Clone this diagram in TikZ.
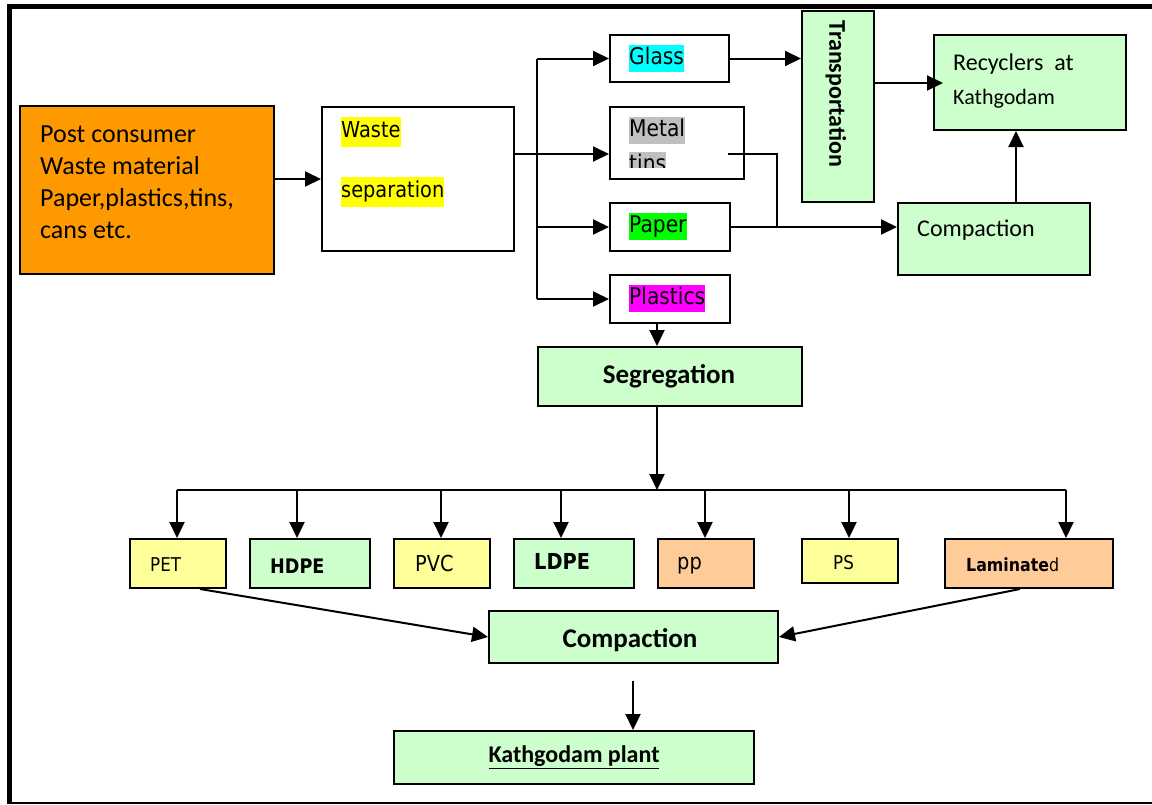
\documentclass[tikz,border=0pt]{standalone}
\usepackage{fontspec}
\setmainfont{Carlito}
\newfontfamily\tah[FakeStretch=0.88]{DejaVu Sans}
\usetikzlibrary{arrows.meta,calc}
\definecolor{orng}{HTML}{FF9900}
\definecolor{lgreen}{HTML}{CCFFCC}
\definecolor{lyellow}{HTML}{FFFF99}
\definecolor{peach}{HTML}{FFCC99}
\definecolor{hcyan}{HTML}{00FFFF}
\definecolor{hgray}{HTML}{C0C0C0}
\definecolor{hgreen}{HTML}{00FF00}
\definecolor{hmag}{HTML}{FF00FF}
\definecolor{hyel}{HTML}{FFFF00}
\begin{document}
\begin{tikzpicture}[x=1pt,y=-1pt,
  bx/.style 2 args={draw, line width=2pt, anchor=north west, inner sep=0pt, minimum width=#1pt, minimum height=#2pt},
  arr/.style={line width=2pt, -{Triangle[length=16pt,width=15pt]}},
  ln/.style={line width=2pt},
  hl/.style={fill=#1, anchor=north west, inner xsep=0pt, inner ysep=0pt, text height=17.5pt, text depth=5.5pt, minimum height=27pt, font=\tah\fontsize{23}{27}\selectfont},
  hlw/.style={fill=#1, anchor=north west, inner xsep=0pt, inner ysep=0pt, text height=17pt, text depth=5.5pt, minimum height=30pt, font=\tah\fontsize{22}{27}\selectfont},
  small/.style={anchor=west, inner sep=0pt, font=\tah\fontsize{#1}{#1}\selectfont},
  cal/.style={inner sep=0pt, font=\fontsize{#1}{#1}\selectfont},
  calb/.style={inner sep=0pt, font=\bfseries\fontsize{#1}{#1}\selectfont}
]
\useasboundingbox (0,0) rectangle (1152,804);
% frame
\draw[line width=5.5pt] (9.5,804) -- (9.5,6.5) -- (1152,6.5);
\draw[line width=2pt] (9.5,803) -- (1152,803);

% boxes
\node[bx={254}{168}, fill=orng] (src) at (19,105) {};
\node[bx={192}{144}, fill=white] (ws) at (321,106) {};
\node[bx={119}{47}, fill=white] (glass) at (609,34) {};
\node[bx={134}{72}, fill=white] (metal) at (609,106) {};
\node[bx={120}{48}, fill=white] (paper) at (609,202) {};
\node[bx={120}{48}, fill=white] (plast) at (609,274) {};
\node[bx={72}{191}, fill=lgreen] (trans) at (801,10) {};
\node[bx={192}{95}, fill=lgreen] (rec) at (933,34) {};
\node[bx={192}{72}, fill=lgreen] (compR) at (897,202) {};
\node[bx={264}{59}, fill=lgreen] (seg) at (537,346) {};
\node[bx={96}{49}, fill=lyellow] (pet) at (129,538) {};
\node[bx={120}{49}, fill=lgreen] (hdpe) at (249,538) {};
\node[bx={96}{49}, fill=lyellow] (pvc) at (393,538) {};
\node[bx={120}{49}, fill=lgreen] (ldpe) at (513,538) {};
\node[bx={96}{49}, fill=peach] (pp) at (657,538) {};
\node[bx={96}{44}, fill=lyellow] (ps) at (801,538) {};
\node[bx={168}{49}, fill=peach] (lam) at (944,538) {};
\node[bx={289}{52}, fill=lgreen] (compB) at (488,610) {};
\node[bx={360}{53}, fill=lgreen] (plant) at (393,730) {};

% texts
\node[anchor=west, align=left, inner sep=0pt, font=\fontsize{26}{32}\selectfont] (srct) at (40,182) {Post consumer\\Waste material\\Paper,plastics,tins,\\cans etc.};
\node[hlw=hyel] (wst1) at (341,117) {Waste};
\node[hlw=hyel] (wst2) at (341,177) {separation};
\node[hl=hcyan] (glasst) at (629,45) {Glass};
\begin{scope}
  \clip (609,106) rectangle (743,167);
  \node[hl=hgray] (metalt1) at (629,117) {Metal};
  \node[hl=hgray] (metalt2) at (629,152) {tins};
\end{scope}
\node[hl=hgreen] (papert) at (629,213) {Paper};
\node[hl=hmag] (plastt) at (629,285) {Plastics};
\node[calb=24, rotate=-90] (transt) at (836,94) {Transportation};
\node[cal=24, anchor=base west] (rect1) at (953,70) {Recyclers\ \ at};
\node[cal=22, anchor=base west] (rect2) at (953,104) {Kathgodam};
\node[cal=24, anchor=base west] (compRt) at (917,236) {Compaction};
\node[calb=27] (segt) at (669,376) {Segregation};
\node[small=19] (pett) at (150,565) {PET};
\node[small=20] (hdpet) at (270,566) {\bfseries HDPE};
\node[small=22] (pvct) at (415,563) {PVC};
\node[small=22] (ldpet) at (534,561) {\bfseries LDPE};
\node[small=22] (ppt) at (677,566) {pp};
\node[small=19] (pst) at (833,563) {PS};
\node[small=18] (lamt) at (966,565) {\textbf{Laminate}d};
\node[calb=27] (compBt) at (630,640) {Compaction};
\node[calb=24] (plantt) at (574,757) {\underline{Kathgodam plant}};

% connector helper coordinates
\coordinate (b1) at (537,154);
\coordinate (t1) at (873,83);
\coordinate (m1) at (728,154);
\coordinate (m2) at (777,226);
\coordinate (c1) at (1016,0);
\coordinate (s1) at (657,0);
\coordinate (bus) at (657,490);
\coordinate (busL) at (177,490);
\coordinate (busR) at (1066,490);
\coordinate (a1) at (177,490);
\coordinate (a2) at (297,490);
\coordinate (a3) at (441,490);
\coordinate (a4) at (561,490);
\coordinate (a5) at (705,490);
\coordinate (a6) at (849,490);
\coordinate (a7) at (1066,490);
\coordinate (p1) at (200,0);
\coordinate (l1) at (1020,0);
\coordinate (k1) at (633,681);

% connectors
\draw[arr] (src.east |- ws.west) -- (ws.west);
\draw[arr] (ws.east |- b1) -- (metal.west |- b1);
\draw[ln] (b1 |- glass.west) -- (b1 |- plast.west);
\draw[arr] (b1 |- glass.west) -- (glass.west);
\draw[arr] (b1 |- paper.west) -- (paper.west);
\draw[arr] (b1 |- plast.west) -- (plast.west);
\draw[arr] (glass.east) -- (trans.west |- glass.east);
\draw[arr, shorten >=-10pt] (trans.east |- t1) -- (rec.west |- t1);
\draw[ln] (m1) -| (m2);
\draw[arr] (paper.east) -- (compR.west |- paper.east);
\draw[arr] (compR.north -| c1) -- (rec.south -| c1);
\draw[arr] (plast.south -| s1) -- (seg.north -| s1);
\draw[arr] (seg.south -| bus) -- (bus);
\draw[ln] (busL) -- (busR);
\draw[arr] (a1) -- (pet.north -| a1);
\draw[arr] (a2) -- (hdpe.north -| a2);
\draw[arr] (a3) -- (pvc.north -| a3);
\draw[arr] (a4) -- (ldpe.north -| a4);
\draw[arr] (a5) -- (pp.north -| a5);
\draw[arr] (a6) -- (ps.north -| a6);
\draw[arr] (a7) -- (lam.north -| a7);
\draw[arr] (pet.south -| p1) -- (compB.west);
\draw[arr] (lam.south -| l1) -- (compB.east);
\draw[arr] (k1) -- (plant.north -| k1);
\end{tikzpicture}
\end{document}
